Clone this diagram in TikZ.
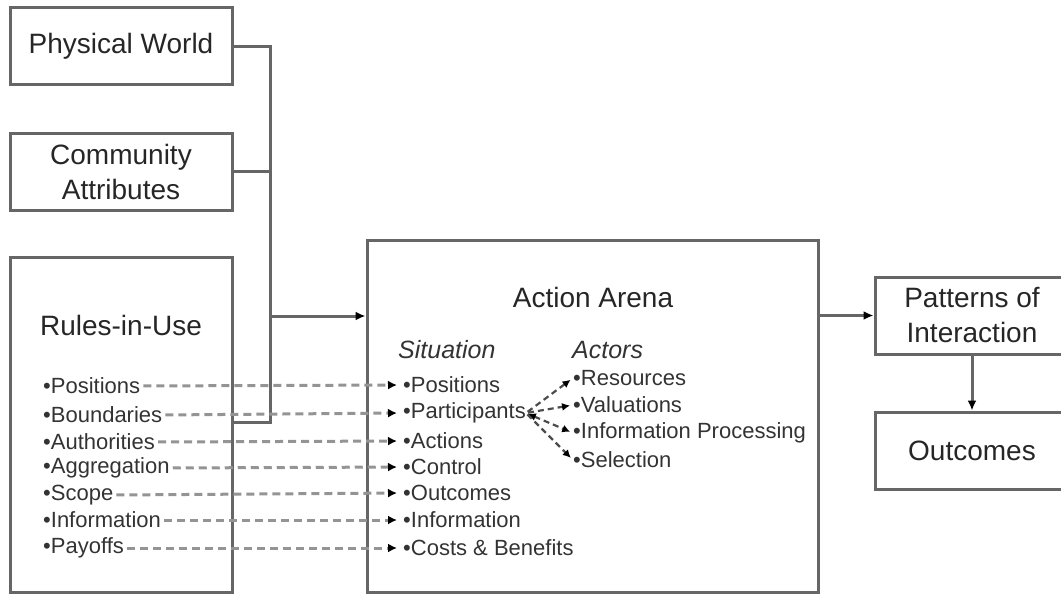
\documentclass[tikz,border=0pt]{standalone}
\usepackage{fontspec}
\setmainfont{Liberation Sans}
\usetikzlibrary{calc,positioning,arrows.meta}

\begin{document}
\begin{tikzpicture}[x=1pt,y=-1pt,
    box/.style={draw=black!60,line width=3pt,inner sep=0pt,text=black!85,font=\fontsize{28}{35}\selectfont,align=center,minimum width=222pt,minimum height=77pt},
    item/.style={anchor=west,inner sep=0pt,text=black!80,font=\fontsize{22}{26}\selectfont},
    head/.style={anchor=west,inner sep=0pt,text=black!80,font=\fontsize{25}{30}\selectfont\itshape},
    link/.style={draw=black!60,line width=3pt},
    flow/.style={link,-{Latex[length=10pt,width=9pt,black]}},
    rulelink/.style={draw=black!42,line width=3pt,dash pattern=on 8pt off 5pt,-{Latex[length=9pt,width=9pt,black]},shorten <=3pt,shorten >=6pt},
    actlink/.style={draw=black!70,line width=2.2pt,dash pattern=on 6pt off 4pt,shorten <=2pt,shorten >=3pt}
    ]

    \useasboundingbox (0,0) rectangle (1061,594);

    % left column
    \node(phys) [box] at (121,46.5) {Physical World};
    \node(comm) [box] at (121,171.5) {Community\\Attributes};
    \node(rules) [box,minimum height=335pt] at (121,424.5) {};
    \node(rules_title) [font=\fontsize{28}{35}\selectfont,text=black!85] at (121,325) {Rules-in-Use};
    \node(r1) [item] at (43,386) {•Positions};
    \node(r2) [item] at (43,415) {•Boundaries};
    \node(r3) [item] at (43,442) {•Authorities};
    \node(r4) [item] at (43,468) {•Aggregation};
    \node(r5) [item] at (43,495) {•Scope};
    \node(r6) [item] at (43,520) {•Information};
    \node(r7) [item] at (43,548) {•Payoffs};

    % action arena
    \node(arena) [box,minimum width=451pt,minimum height=352pt] at (592.5,416) {};
    \node(arena_title) [font=\fontsize{28}{35}\selectfont,text=black!85] at (593,297) {Action Arena};
    \node(sit_title) [head] at (398,350) {Situation};
    \node(act_title) [head] at (572,350) {Actors};
    \node(s1) [item] at (403,385) {•Positions};
    \node(s2) [item] at (403,413) {•Participants};
    \node(s3) [item] at (403,441) {•Actions};
    \node(s4) [item] at (403,467) {•Control};
    \node(s5) [item] at (403,493) {•Outcomes};
    \node(s6) [item] at (403,520) {•Information};
    \node(s7) [item] at (403,548) {•Costs \& Benefits};
    \node(a1) [item] at (573,378) {•Resources};
    \node(a2) [item] at (573,405) {•Valuations};
    \node(a3) [item] at (573,433) {•Information Processing};
    \node(a4) [item] at (573,460) {•Selection};

    % right column
    \node(pat) [box,minimum width=194pt] at (972,315.5) {Patterns of\\Interaction};
    \node(out) [box,minimum width=194pt] at (972,450.5) {Outcomes};

    % connectors
    \coordinate(bus_top) at (270,46.5);
    \coordinate(bus_bot) at (270,422);
    \coordinate(feed) at (270,316);
    \draw[link] (phys.east) -- (bus_top) -- (bus_bot) -- (bus_bot -| rules.east);
    \draw[link] (comm.east) -- (comm.east -| bus_top);
    \draw[flow] (feed) -- (feed -| arena.west);
    \draw[flow] (pat.west -| arena.east) -- (pat.west);
    \draw[flow] (pat.south) -- (out.north);

    \draw[rulelink] (r1.east) -- (s1.west);
    \draw[rulelink] (r2.east) -- (s2.west);
    \draw[rulelink] (r3.east) -- (s3.west);
    \draw[rulelink] (r4.east) -- (s4.west);
    \draw[rulelink] (r5.east) -- (s5.west);
    \draw[rulelink] (r6.east) -- (s6.west);
    \draw[rulelink] (r7.east) -- (s7.west);

    \draw[actlink,-{Latex[length=8pt,width=8pt,black]}] (s2.east) -- (a1.west);
    \draw[actlink,-{Latex[length=8pt,width=8pt,black]}] (s2.east) -- (a2.west);
    \draw[actlink,{Latex[length=8pt,width=8pt,black]}-{Latex[length=8pt,width=8pt,black]}] (s2.east) -- (a3.west);
    \draw[actlink,-{Latex[length=8pt,width=8pt,black]}] (s2.east) -- (a4.west);

  \end{tikzpicture}
\end{document}
